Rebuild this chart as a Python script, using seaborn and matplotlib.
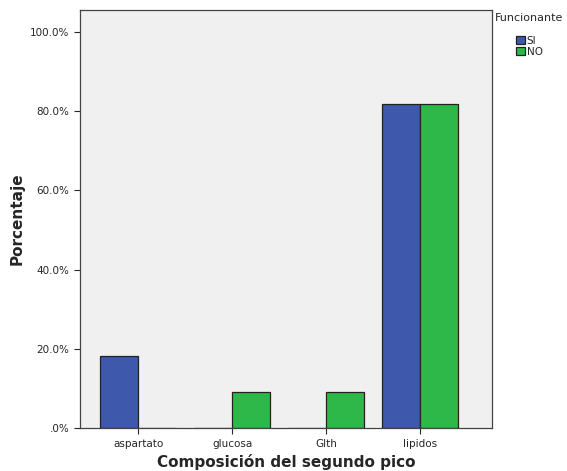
import matplotlib
matplotlib.use("Agg")
import matplotlib.pyplot as plt
import matplotlib.ticker as mticker
import seaborn as sns
import pandas as pd

categories = ["aspartato", "glucosa", "Glth", "lipidos"]
groups = ["SI", "NO"]
si_pct = [18.2, 0.0, 0.0, 81.8]
no_pct = [0.0, 9.1, 9.1, 81.8]
palette = {"SI": "#3e58ac", "NO": "#2eb84a"}

df = pd.DataFrame({
    "comp": categories * 2,
    "Funcionante": ["SI"] * 4 + ["NO"] * 4,
    "pct": si_pct + no_pct,
})

sns.set_style("ticks")
plt.rcParams['font.family'] = ['DejaVu Sans']

fig = plt.figure(figsize=(5.67, 4.71), dpi=100)
ax = fig.add_axes([0.141, 0.091, 0.727, 0.888])
ax.set_facecolor("#f0f0f0")

sns.barplot(data=df, x="comp", y="pct", hue="Funcionante", hue_order=groups,
            order=categories, palette=palette, width=0.81, saturation=1,
            edgecolor="#222222", linewidth=0.9, ax=ax)

ax.set_ylim(0, 105.5)
ax.set_xlim(-0.62, 3.77)
ax.set_yticks([0, 20, 40, 60, 80, 100])
ax.yaxis.set_major_formatter(mticker.FuncFormatter(lambda v, p: ".0%" if v == 0 else f"{v:.1f}%"))
ax.tick_params(axis="both", labelsize=7.5, length=4, width=0.8, direction="out")
ax.set_xlabel("Composición del segundo pico", fontsize=11, fontweight="bold")
ax.set_ylabel("Porcentaje", fontsize=11, fontweight="bold")
for s in ax.spines.values():
    s.set_visible(True)
    s.set_linewidth(0.9)
    s.set_color("#444444")

leg = ax.legend(title="Funcionante\n", loc="upper left", bbox_to_anchor=(1.0, 1.0),
                frameon=False, fontsize=7.5, title_fontsize=8,
                handlelength=0.8, handleheight=0.8, handletextpad=0.2,
                labelspacing=0.1, borderaxespad=0, borderpad=0.3)

fig.savefig("out.png", dpi=100)
